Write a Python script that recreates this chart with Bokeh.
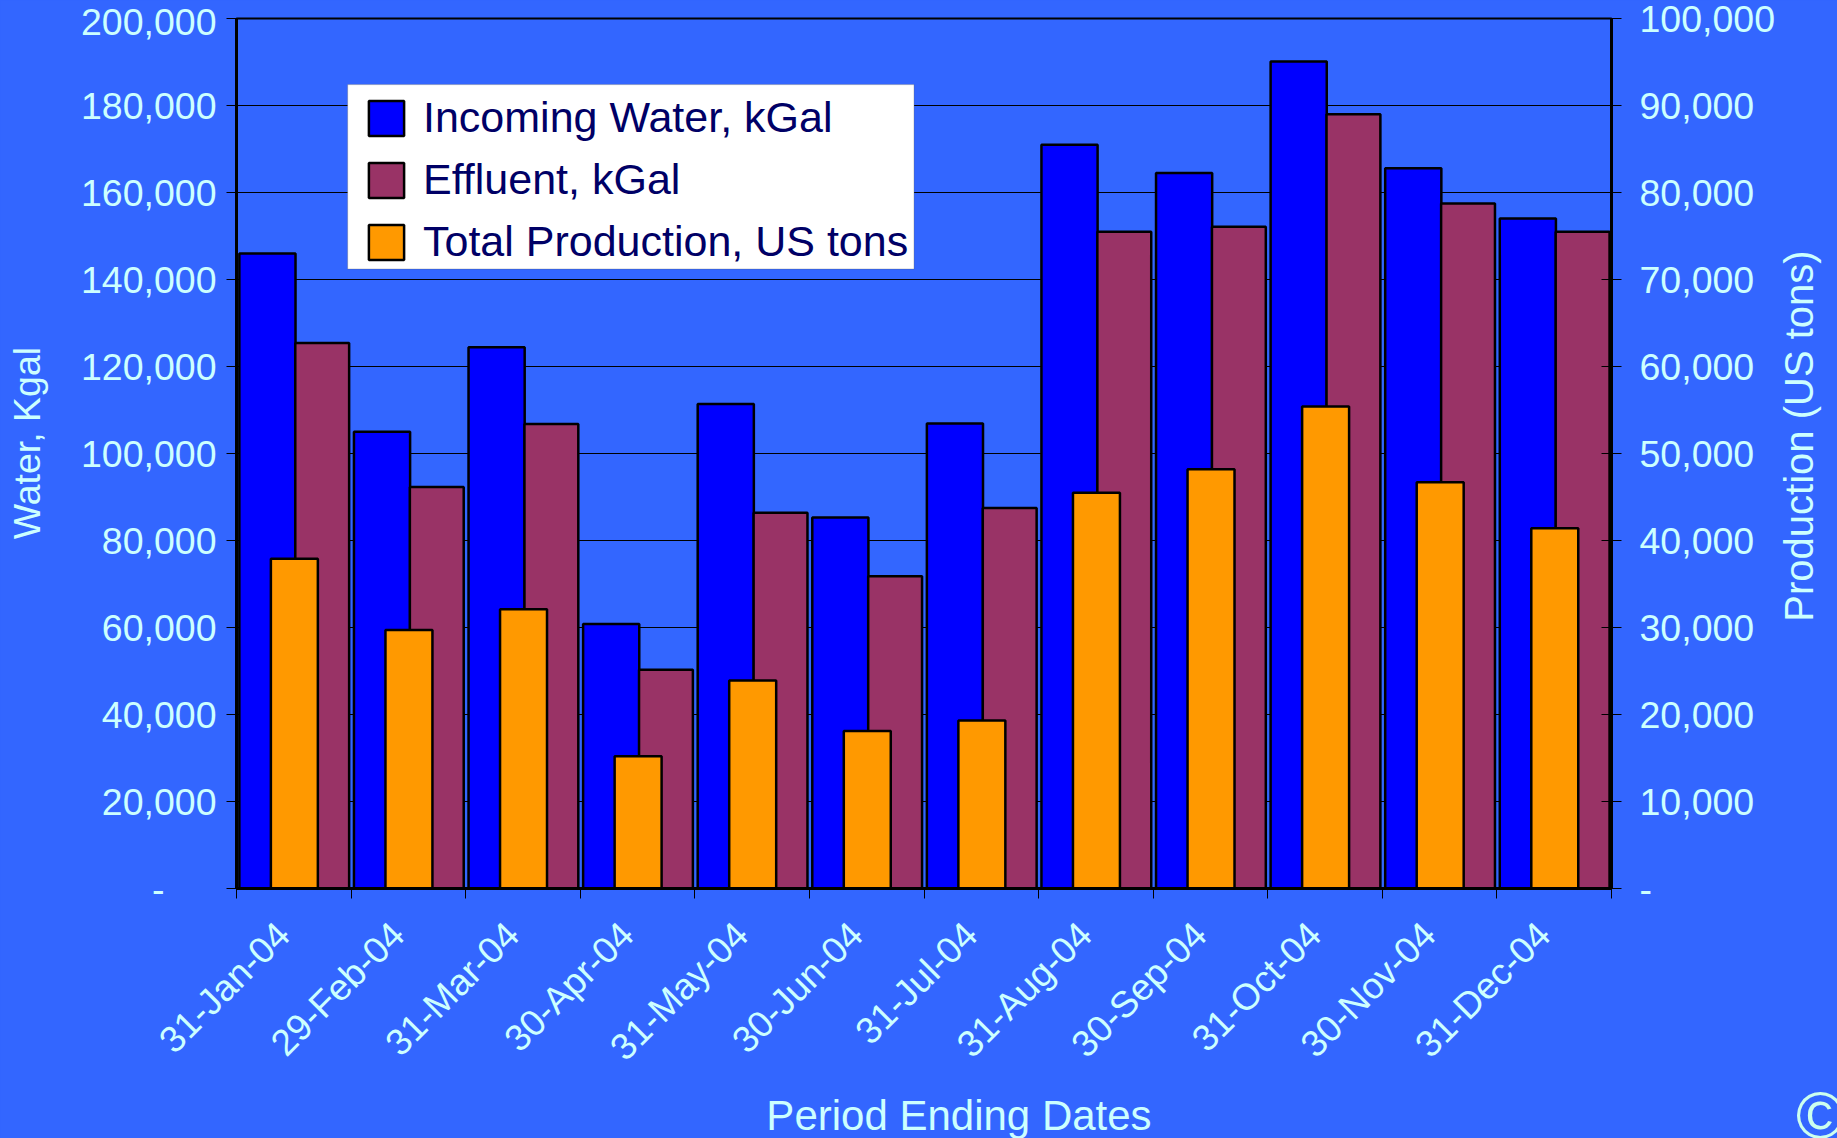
from math import pi
from bokeh.plotting import figure
from bokeh.layouts import column
from bokeh.models import (ColumnDataSource, Range1d, LinearAxis, FixedTicker, NumeralTickFormatter,
                          Legend, LegendItem, Grid, BoxAnnotation, Div)
from bokeh.embed import file_html
from bokeh.resources import INLINE

periods = ["31-Jan-04", "29-Feb-04", "31-Mar-04", "30-Apr-04", "31-May-04", "30-Jun-04",
           "31-Jul-04", "31-Aug-04", "30-Sep-04", "31-Oct-04", "30-Nov-04", "31-Dec-04"]
incoming_water = [146000, 105000, 124400, 60800, 111400, 85300, 106900, 171000, 164500, 190100, 165600, 154000]
effluent = [125400, 92300, 106800, 50300, 86400, 71800, 87500, 151000, 152100, 178000, 157500, 151000]
production = [37900, 29700, 32100, 15200, 23900, 18100, 19300, 45500, 48200, 55400, 46700, 41400]
water_ticks = list(range(0, 200001, 20000))
prod_ticks = list(range(0, 100001, 10000))

BG = "#3366FF"
TXT = "#CCFFFF"
FONT = "Liberation Sans"
idx = list(range(len(periods)))
NB = "\u00a0"

p = figure(frame_width=1375, frame_height=870, output_backend="svg", toolbar_location=None,
           x_range=Range1d(0, 12), y_range=Range1d(0, 200000),
           x_axis_type=None, y_axis_type=None,
           background_fill_color=BG, border_fill_color=BG,
           outline_line_color="black", outline_line_width=2,
           min_border_left=236, min_border_right=226, min_border_top=18, min_border_bottom=250)
p.extra_y_ranges = {"prod": Range1d(0, 100000)}

src = ColumnDataSource(dict(
    x1=[i + 0.27 for i in idx], x2=[i + 0.748 for i in idx], x3=[i + 0.505 for i in idx],
    w=incoming_water, e=effluent, t=production))

r1 = p.vbar(x="x1", top="w", bottom=0, width=0.49, source=src, fill_color="#0000FF", line_color="black", line_width=2.5)
r2 = p.vbar(x="x2", top="e", bottom=0, width=0.47, source=src, fill_color="#993366", line_color="black", line_width=2.5)
r3 = p.vbar(x="x3", top="t", bottom=0, width=0.41, source=src, y_range_name="prod",
            fill_color="#FF9900", line_color="black", line_width=2.5)

def style_y(ax):
    ax.major_label_text_color = TXT
    ax.major_label_text_font = FONT
    ax.major_label_text_font_size = "37.5px"
    ax.axis_label_text_color = TXT
    ax.axis_label_text_font = FONT
    ax.axis_label_text_font_size = "37.5px"
    ax.axis_label_text_font_style = "normal"
    ax.axis_line_color = "black"
    ax.axis_line_width = 3
    ax.major_tick_line_color = "black"
    ax.major_tick_line_width = 1
    ax.minor_tick_line_color = None
    ax.formatter = NumeralTickFormatter(format="0,0")

left = LinearAxis(ticker=FixedTicker(ticks=water_ticks), axis_label=NB * 2 + "Water, Kgal")
style_y(left)
left.major_label_overrides = {0: "-" + NB * 5}
left.major_tick_in = 0
left.major_tick_out = 10
left.major_label_standoff = 10
left.axis_label_standoff = 30
p.add_layout(left, "left")

right = LinearAxis(y_range_name="prod", ticker=FixedTicker(ticks=prod_ticks))
style_y(right)
right.major_label_overrides = {0: "-"}
right.major_tick_in = 10
right.major_tick_out = 10
right.major_label_standoff = 18
p.add_layout(right, "right")

bottom = LinearAxis(ticker=FixedTicker(ticks=[i + 0.41 for i in idx], minor_ticks=list(range(13))),
                    axis_label=NB * 6 + "Period Ending Dates")
bottom.major_label_overrides = {i + 0.41: periods[i] for i in idx}
bottom.major_label_orientation = pi / 4
bottom.major_label_text_color = TXT
bottom.major_label_text_font = FONT
bottom.major_label_text_font_size = "37px"
bottom.major_label_standoff = 30
bottom.major_tick_in = 0
bottom.major_tick_out = 0
bottom.minor_tick_in = 0
bottom.minor_tick_out = 10
bottom.minor_tick_line_color = "black"
bottom.minor_tick_line_width = 1
bottom.axis_line_color = "black"
bottom.axis_line_width = 3
bottom.axis_label_text_color = TXT
bottom.axis_label_text_font = FONT
bottom.axis_label_text_font_size = "42px"
bottom.axis_label_text_font_style = "normal"
bottom.axis_label_standoff = 6
p.add_layout(bottom, "below")

p.add_layout(Grid(dimension=1, ticker=FixedTicker(ticks=water_ticks), grid_line_color="black", grid_line_width=1))

p.add_layout(BoxAnnotation(left=0.97, right=5.913, bottom=142400, top=184800,
                           fill_color="white", fill_alpha=1, line_color="#555555", line_width=1))

legend = Legend(items=[LegendItem(label="Incoming Water, kGal", renderers=[r1]),
                       LegendItem(label="Effluent, kGal", renderers=[r2]),
                       LegendItem(label="Total Production, US tons", renderers=[r3])],
                location=(128, 622), orientation="vertical",
                label_text_font=FONT, label_text_font_size="43px", label_text_color="#000066",
                glyph_width=44, glyph_height=44, label_standoff=15, spacing=13, padding=0,
                background_fill_alpha=0, border_line_color=None, margin=0)
p.add_layout(legend, "center")

right_title = Div(text="Production (US tons)", margin=0,
                  styles={"position": "absolute", "left": "1599px", "top": "411px",
                          "width": "400px", "height": "50px", "line-height": "50px",
                          "text-align": "center", "white-space": "nowrap",
                          "transform": "rotate(-90deg)", "transform-origin": "center",
                          "font-size": "40px", "font-family": FONT, "color": TXT})
logo = Div(text="©", margin=0, styles={"position": "absolute", "left": "1796px", "top": "1090px",
                                        "width": "41px", "height": "48px", "overflow": "hidden",
                                        "line-height": "50px", "font-size": "66px",
                                        "font-family": FONT, "color": "#CCFFEE"})
page = column(p, right_title, logo)

html = file_html(page, INLINE)
html = html.replace("</head>", "<style>html,body{background:#3366FF}</style></head>", 1)
open("out.html", "w").write(html)
